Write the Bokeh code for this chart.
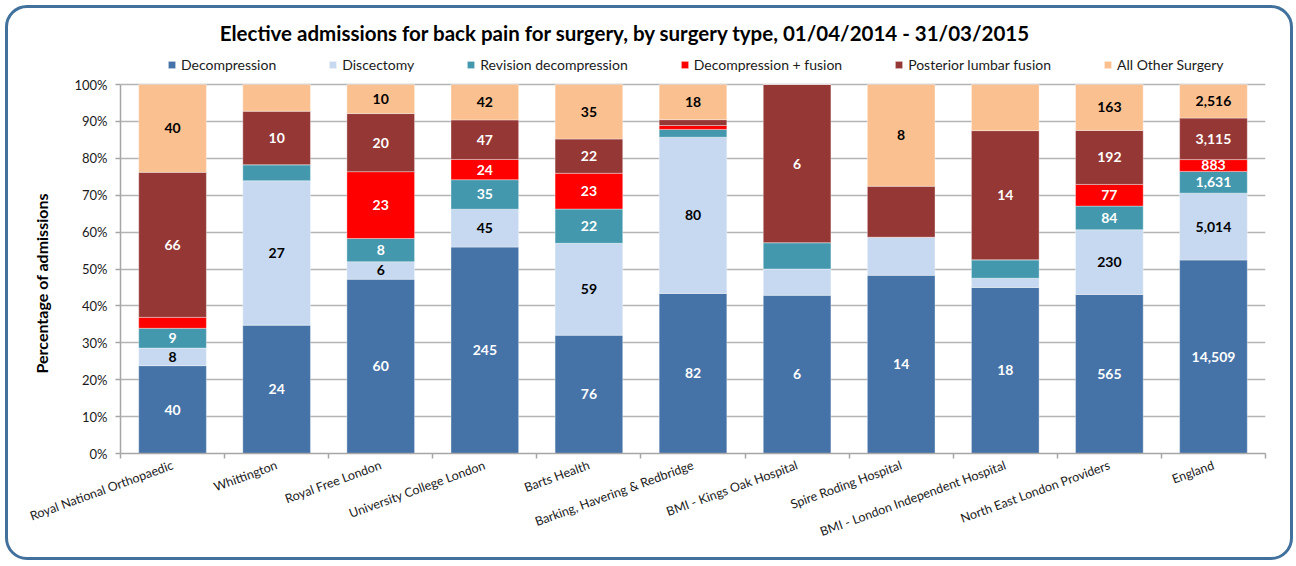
import numpy as np
from bokeh.plotting import figure
from bokeh.models import (ColumnDataSource, FixedTicker, NumeralTickFormatter,
                          Legend, LegendItem, Label, Range1d, Title)
from bokeh.core.properties import value
from bokeh.embed import file_html
from bokeh.resources import INLINE

# ---------------- data ----------------
providers = [
    "Royal National Orthopaedic", "Whittington", "Royal Free London",
    "University College London", "Barts Health", "Barking, Havering & Redbridge",
    "BMI - Kings Oak Hospital", "Spire Roding Hospital",
    "BMI - London Independent Hospital", "North East London Providers", "England",
]
series_names = ["Decompression", "Discectomy", "Revision decompression",
                "Decompression + fusion", "Posterior lumbar fusion", "All Other Surgery"]
decompression = [40, 24, 60, 245, 76, 82, 6, 14, 18, 565, 14509]
discectomy = [8, 27, 6, 45, 59, 80, 1, 3, 1, 230, 5014]
revision_decompression = [9, 3, 8, 35, 22, 4, 1, 0, 2, 84, 1631]
decompression_fusion = [5, 0, 23, 24, 23, 2, 0, 0, 0, 77, 883]
posterior_lumbar_fusion = [66, 10, 20, 47, 22, 3, 6, 4, 14, 192, 3115]
all_other_surgery = [40, 5, 10, 42, 35, 18, 0, 8, 5, 163, 2516]
y_ticks = [0.0, 0.1, 0.2, 0.3, 0.4, 0.5, 0.6, 0.7, 0.8, 0.9, 1.0]

title_text = "Elective admissions for back pain for surgery, by surgery type, 01/04/2014 - 31/03/2015"
y_title = "Percentage of admissions"

colors = ["#4572A7", "#C6D9F0", "#4398AE", "#FF0000", "#953735", "#FAC090"]
label_colors = ["white", "black", "white", "white", "white", "black"]
FONT = "Lato"

counts = np.array([decompression, discectomy, revision_decompression,
                   decompression_fusion, posterior_lumbar_fusion, all_other_surgery], dtype=float)
totals = counts.sum(axis=0)
fractions = counts / totals

n = len(providers)
xs = np.arange(n) + 0.5
keys = ["s%d" % i for i in range(len(series_names))]
data = {"x": xs}
for k, f in zip(keys, fractions):
    data[k] = f
src = ColumnDataSource(data)

# layout (pixels)
W, H = 1288, 555
BORDER_TOP = 4
PLOT_H = 369          # height of 0..100%
HEADER = 72           # space above 100% inside frame for title + legend
y_top = 1 + HEADER / PLOT_H

p = figure(width=W, height=H, output_backend="svg", toolbar_location=None,
           x_range=Range1d(0, n), y_range=Range1d(0, y_top),
           min_border_left=112, min_border_right=W - 112 - 1145, min_border_top=BORDER_TOP,
           min_border_bottom=H - BORDER_TOP - PLOT_H - HEADER)
p.border_fill_color = None
p.background_fill_color = None
p.outline_line_color = None
p.styles = {"border": "3px solid #41719C", "border-radius": "22px",
            "margin-left": "5px", "margin-top": "5px"}

renderers = p.vbar_stack(keys, x="x", width=0.65, color=colors, source=src,
                         line_color="white", line_width=0.6, line_alpha=0.6)

# value labels
lx, ly, lt, lc = [], [], [], []
bottoms = np.zeros(n)
for i in range(len(series_names)):
    tops = bottoms + fractions[i]
    for j in range(n):
        c = int(counts[i, j])
        if c >= 6:
            lx.append(xs[j])
            ly.append((bottoms[j] + tops[j]) / 2)
            lt.append("{:,}".format(c))
            lc.append(label_colors[i])
    bottoms = tops
lsrc = ColumnDataSource(dict(x=lx, y=ly, text=lt, color=lc))
p.text(x="x", y="y", text="text", source=lsrc, text_color="color",
       text_font=value(FONT), text_font_style="bold", text_font_size="14px",
       text_align="center", text_baseline="middle")

# axes
xa = p.xaxis[0]
xa.ticker = FixedTicker(ticks=xs.tolist(), minor_ticks=list(range(n + 1)))
xa.major_label_overrides = {float(x): name for x, name in zip(xs, providers)}
xa.major_label_orientation = 0.35
xa.major_tick_line_color = None
xa.major_tick_out = 0
xa.major_tick_in = 0
xa.minor_tick_out = 5
xa.minor_tick_in = 0
xa.minor_tick_line_color = "#A6A6A6"
xa.minor_tick_line_width = 1.5
xa.axis_line_color = "#A6A6A6"
xa.axis_line_width = 1.5
xa.major_label_text_font = FONT
xa.major_label_text_font_size = "12.5px"
xa.major_label_text_color = "#1a1a1a"
xa.major_label_standoff = 6

ya = p.yaxis[0]
ya.ticker = FixedTicker(ticks=y_ticks)
ya.bounds = (0, 1)
ya.formatter = NumeralTickFormatter(format="0%")
ya.major_label_text_font = FONT
ya.major_label_text_font_size = "13px"
ya.major_label_text_color = "#1a1a1a"
ya.major_label_standoff = 8
ya.major_tick_out = 5
ya.major_tick_in = 0
ya.major_tick_line_color = "#A6A6A6"
ya.major_tick_line_width = 1.5
ya.minor_tick_line_color = None
ya.axis_line_color = "#A6A6A6"
ya.axis_line_width = 1.5

# y-axis title as a side title, aligned to the 0-100% part
ytitle = Title(text=y_title, align="left", offset=80, standoff=42,
               text_font=FONT, text_font_style="bold", text_font_size="16px",
               text_color="#000000")
p.add_layout(ytitle, "left")

p.xgrid.visible = False
p.ygrid.grid_line_color = "#B4B4B4"
p.ygrid.grid_line_width = 1.5

# legend just above the 100% line (location in px from frame bottom-left)
items = [LegendItem(label=name, renderers=[r]) for name, r in zip(series_names, renderers)]
legend = Legend(items=items, orientation="horizontal", location=(47, PLOT_H + 10),
                spacing=52, glyph_width=9, glyph_height=9, label_standoff=5,
                label_text_font=FONT, label_text_font_size="14px", label_text_color="#1a1a1a",
                margin=0, padding=0, border_line_color=None, background_fill_color=None,
                background_fill_alpha=0, label_height=20)
p.add_layout(legend, "center")

# title
title = Label(x=4.85, y=1 + 52 / PLOT_H, text=title_text, text_font=FONT, text_font_style="bold",
              text_font_size="20.5px", text_align="center", text_baseline="middle",
              text_color="#000000")
p.add_layout(title)

open("out.html", "w").write(file_html(p, INLINE))
